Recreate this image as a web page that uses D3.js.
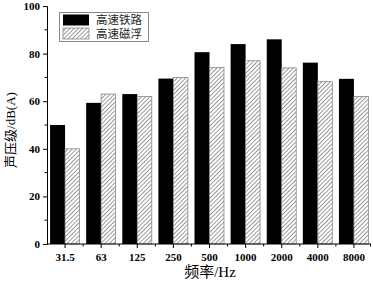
<!DOCTYPE html>
<html>
<head>
<meta charset="utf-8">
<script src="https://cdn.jsdelivr.net/npm/d3@7"></script>
<style>
body { margin: 0; background: #fff; }
text { font-family: "Liberation Serif", "Times New Roman", serif; }
.cjk { font-family: "Noto Sans CJK SC", sans-serif; }
</style>
</head>
<body>
<div id="chart"></div>
<script>
var width = 373;
var height = 281;

var freqs = ['31.5', '63', '125', '250', '500', '1000', '2000', '4000', '8000'];
var railVals = [50, 59.3, 63, 69.5, 80.6, 84, 86, 76.2, 69.4];
var maglevVals = [40, 63, 62, 70, 74.2, 77, 74, 68.2, 62];
var seriesNames = ['高速铁路', '高速磁浮'];
var yTicks = [0, 20, 40, 60, 80, 100];

var margin = {left: 47, top: 6, right: 1, bottom: 37};

var svg = d3.select('#chart').append('svg')
    .attr('width', width)
    .attr('height', height);

var defs = svg.append('defs');
var pat = defs.append('pattern')
    .attr('id', 'hatch')
    .attr('patternUnits', 'userSpaceOnUse')
    .attr('width', 3)
    .attr('height', 3)
    .attr('patternTransform', 'rotate(45)');
pat.append('rect').attr('width', 3).attr('height', 3).attr('fill', '#fff');
pat.append('line')
    .attr('x1', 0).attr('y1', 0).attr('x2', 0).attr('y2', 3)
    .attr('stroke', '#777').attr('stroke-width', 1.5);

var x = d3.scaleBand()
    .domain(freqs)
    .range([margin.left, width - margin.right])
    .paddingInner(0.17)
    .paddingOuter(0.085);

var y = d3.scaleLinear()
    .domain([0, 100])
    .range([height - margin.bottom, margin.top]);

var xs = d3.scaleBand()
    .domain([0, 1])
    .range([0, x.bandwidth()]);

var g = svg.append('g');

// bars
g.selectAll('.rail')
    .data(railVals)
    .enter()
    .append('rect')
    .attr('x', (d, i) => x(freqs[i]) + xs(0))
    .attr('y', d => y(d))
    .attr('width', xs.bandwidth())
    .attr('height', d => y(0) - y(d))
    .attr('fill', '#000');

g.selectAll('.maglev')
    .data(maglevVals)
    .enter()
    .append('rect')
    .attr('x', (d, i) => x(freqs[i]) + xs(1))
    .attr('y', d => y(d))
    .attr('width', xs.bandwidth() - 0.5)
    .attr('height', d => y(0) - y(d))
    .attr('fill', 'url(#hatch)')
    .attr('stroke', '#888')
    .attr('stroke-width', 0.8);

// y axis
var yAxis = d3.axisLeft(y).tickValues(yTicks).tickSize(4).tickPadding(3);
var yg = svg.append('g')
    .attr('transform', 'translate(' + margin.left + ',0)')
    .call(yAxis);
yg.selectAll('text').attr('font-size', 11).attr('font-weight', 'bold');
yg.select('.domain').attr('stroke', '#000');
yg.selectAll('.minor')
    .data([10, 30, 50, 70, 90])
    .enter()
    .append('line')
    .attr('x1', -2.5).attr('x2', 0)
    .attr('y1', d => y(d)).attr('y2', d => y(d))
    .attr('stroke', '#000');

// x axis
var step = x.step();
var xg = svg.append('g')
    .attr('transform', 'translate(0,' + y(0) + ')');
xg.append('line')
    .attr('x1', margin.left).attr('x2', width - 2)
    .attr('stroke', '#000');
xg.selectAll('.tk')
    .data(freqs)
    .enter()
    .append('line')
    .attr('x1', d => x(d) + x.bandwidth() / 2)
    .attr('x2', d => x(d) + x.bandwidth() / 2)
    .attr('y1', 0).attr('y2', 4)
    .attr('stroke', '#000');
xg.selectAll('.mtk')
    .data(freqs)
    .enter()
    .append('line')
    .attr('x1', d => Math.min(x(d) + x.bandwidth() / 2 + step / 2, width - 2.5))
    .attr('x2', d => Math.min(x(d) + x.bandwidth() / 2 + step / 2, width - 2.5))
    .attr('y1', 0).attr('y2', 2.5)
    .attr('stroke', '#000');
xg.selectAll('.lb')
    .data(freqs)
    .enter()
    .append('text')
    .attr('x', d => x(d) + x.bandwidth() / 2)
    .attr('y', 16.5)
    .attr('text-anchor', 'middle')
    .attr('font-size', 11)
    .attr('font-weight', 'bold')
    .text(d => d);

// axis titles
svg.append('text')
    .attr('x', 210)
    .attr('y', 277)
    .attr('text-anchor', 'middle')
    .attr('font-size', 15)
    .html('<tspan class="cjk">频率</tspan>/Hz');

svg.append('text')
    .attr('transform', 'translate(15,' + 130 + ') rotate(-90)')
    .attr('text-anchor', 'middle')
    .attr('font-size', 13)
    .html('<tspan class="cjk">声压级</tspan>/dB(A)');

// legend
var lg = svg.append('g');
lg.append('rect')
    .attr('x', 59.5).attr('y', 12.5)
    .attr('width', 89).attr('height', 29)
    .attr('fill', '#fff')
    .attr('stroke', '#888');
var fills = ['#000', 'url(#hatch)'];
seriesNames.forEach((name, i) => {
    lg.append('rect')
        .attr('x', 63).attr('y', 14.5 + i * 13.5)
        .attr('width', 26).attr('height', 11)
        .attr('fill', fills[i])
        .attr('stroke', i ? '#888' : 'none')
        .attr('stroke-width', 0.8);
    lg.append('text')
        .attr('class', 'cjk')
        .attr('x', 96).attr('y', 24 + i * 13.5)
        .attr('font-size', 11.5)
        .attr('fill', '#222')
        .text(name);
});
</script>
</body>
</html>
